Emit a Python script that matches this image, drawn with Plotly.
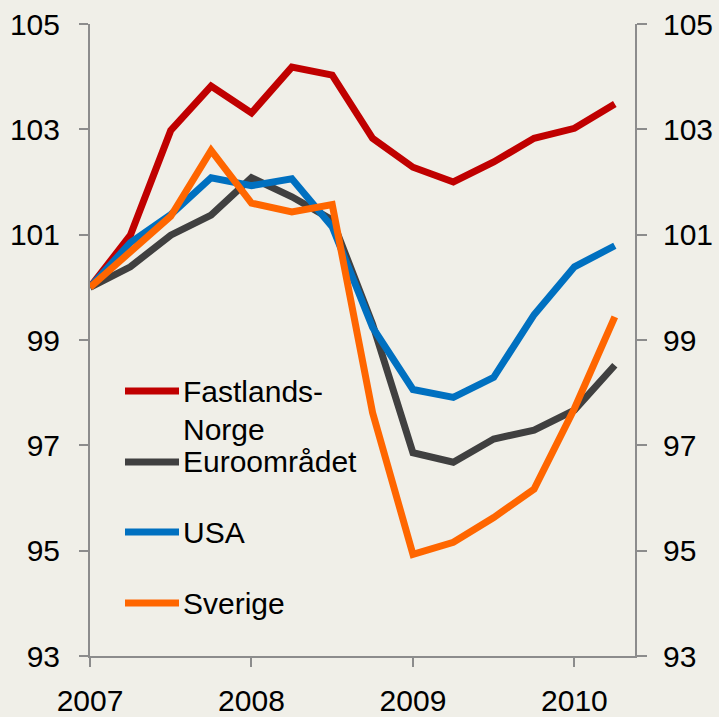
import plotly.graph_objects as go

quarters = [2007.0, 2007.25, 2007.5, 2007.75, 2008.0, 2008.25, 2008.5, 2008.75,
            2009.0, 2009.25, 2009.5, 2009.75, 2010.0, 2010.25]

norge = [100.0, 100.99, 102.98, 103.82, 103.31, 104.18, 104.03, 102.83,
         102.28, 102.0, 102.38, 102.83, 103.02, 103.48]
euro = [100.0, 100.39, 100.99, 101.37, 102.08, 101.72, 101.28, 99.3,
        96.86, 96.68, 97.12, 97.29, 97.67, 98.52]
usa = [100.0, 100.85, 101.38, 102.08, 101.93, 102.06, 101.15, 99.24,
       98.06, 97.91, 98.29, 99.48, 100.39, 100.79]
sverige = [100.0, 100.66, 101.35, 102.6, 101.6, 101.43, 101.57, 97.62,
           94.93, 95.16, 95.63, 96.17, 97.7, 99.44]

series_names = ["Fastlands-Norge", "Euroområdet", "USA", "Sverige"]
series_values = [norge, euro, usa, sverige]
colors = ["#c00000", "#404040", "#0070c0", "#ff6600"]

y_ticks = [93, 95, 97, 99, 101, 103, 105]
x_ticks = [2007, 2008, 2009, 2010]

BG = "#f0efe8"
AX = "#8c8c8c"
FONT = "Liberation Sans, Arial, sans-serif"
FS = 30

fig = go.Figure()
for name, vals, c in zip(series_names, series_values, colors):
    fig.add_trace(go.Scatter(x=quarters, y=vals, mode="lines", name=name,
                             line=dict(color=c, width=7), showlegend=False))
# invisible trace for right axis
fig.add_trace(go.Scatter(x=quarters, y=norge, yaxis="y2", mode="lines",
                         line=dict(color="rgba(0,0,0,0)"), showlegend=False,
                         hoverinfo="skip"))

# manual legend
l0, l1 = 90, 635
t0, b0 = 24, 656
def px(x):
    return (x - l0) / (l1 - l0)
def py(y):
    return (b0 - y) / (b0 - t0)

legend_rows = [("Fastlands-", 391, True), ("Norge", 429, False),
               ("Euroområdet", 462, True), ("USA", 532, True), ("Sverige", 603, True)]
ci = 0
for text, yy, has_line in legend_rows:
    fig.add_annotation(x=px(181), y=py(yy), xref="paper", yref="paper",
                       text=text, showarrow=False, xanchor="left", yanchor="middle",
                       font=dict(size=FS, color="black", family=FONT))
    if has_line:
        fig.add_shape(type="line", xref="paper", yref="paper",
                      x0=px(125), x1=px(179), y0=py(yy), y1=py(yy),
                      line=dict(color=colors[ci], width=7))
        ci += 1

axis_common = dict(showgrid=False, zeroline=False, showline=True, linecolor=AX,
                   linewidth=2, ticks="outside", tickcolor=AX, tickwidth=2,
                   automargin=False, tickfont=dict(size=FS, color="black", family=FONT))

fig.update_layout(
    width=719, height=717,
    margin=dict(l=l0, r=719 - l1, t=t0, b=717 - b0),
    paper_bgcolor=BG, plot_bgcolor=BG,
    font=dict(family=FONT, size=FS, color="black"),
    showlegend=False,
    xaxis=dict(range=[2007, 2010.375], tickvals=x_ticks, ticktext=[str(v) for v in x_ticks],
               ticklen=9, ticklabelstandoff=8, **axis_common),
    yaxis=dict(range=[93, 105], tickvals=y_ticks, ticklen=9, ticklabelstandoff=13,
               **axis_common),
    yaxis2=dict(range=[93, 105], tickvals=y_ticks, overlaying="y", side="right",
                ticklen=10, ticklabelstandoff=10, **axis_common),
)

fig.write_html("out.html", config={"displayModeBar": False},
               post_script="document.body.style.margin='0px';document.body.style.overflow='hidden';")
